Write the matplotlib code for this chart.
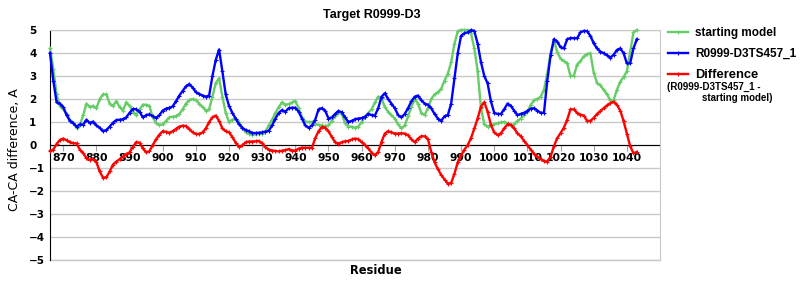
import numpy as np
import matplotlib
matplotlib.use("Agg")
import matplotlib.pyplot as plt

# CA-CA differences per residue (residues 866..1043)
first_residue = 866

starting_model = [
    4.2, 3.3, 2.2, 1.7,
    1.55, 1.35, 1.1, 0.95, 0.75, 0.85, 1.3, 1.8, 1.65, 1.7,
    1.6, 2.0, 2.2, 2.2, 1.8, 1.7, 1.9, 1.65, 1.5, 1.85,
    1.7, 1.45, 1.3, 1.55, 1.75, 1.75, 1.7, 1.2, 0.95, 0.87,
    0.9, 1.05, 1.2, 1.23, 1.25, 1.35, 1.55, 1.8, 1.95, 2.0,
    1.95, 1.8, 1.65, 1.5, 1.55, 2.1, 2.7, 2.9, 2.1, 1.4,
    1.0, 1.1, 1.15, 1.0, 0.75, 0.55, 0.5, 0.45, 0.46, 0.48,
    0.5, 0.6, 0.85, 1.1, 1.4, 1.65, 1.85, 1.75, 1.78, 1.85,
    1.92, 1.6, 1.2, 1.02, 1.0, 1.0, 0.92, 0.87, 0.85, 0.82,
    0.85, 1.05, 1.25, 1.4, 1.35, 0.95, 0.8, 0.8, 0.75, 0.8,
    1.0, 1.2, 1.4, 1.55, 1.85, 2.1, 2.05, 1.65, 1.45, 1.3,
    1.15, 0.9, 0.72, 0.85, 1.25, 1.65, 2.0, 1.8, 1.4, 1.3,
    1.6, 2.0, 2.2, 2.3, 2.45, 2.8, 3.1, 3.6, 4.4, 4.95,
    5.0, 5.0, 5.0, 4.85, 4.2, 3.2, 1.6, 0.9, 0.8, 0.87,
    0.9, 0.95, 0.98, 1.0, 0.95, 0.85, 0.9, 1.05, 1.15, 1.3,
    1.45, 1.75, 1.95, 2.0, 2.1, 2.4, 3.1, 4.0, 4.55, 4.05,
    3.75, 3.65, 3.55, 3.0, 3.0, 3.5, 3.65, 3.85, 3.95, 3.99,
    3.15, 2.7, 2.6, 2.4, 2.2, 1.95, 1.95, 2.4, 2.75, 2.95,
    3.2, 4.06, 4.9, 5.0,
]

model_ts457 = [
    4.0, 2.8, 1.85, 1.8,
    1.65, 1.3, 1.05, 0.95, 0.8, 0.9, 0.88, 1.1, 0.95, 1.02,
    0.85, 0.75, 0.6, 0.65, 0.8, 0.97, 1.08, 1.1, 1.12, 1.2,
    1.4, 1.57, 1.55, 1.45, 1.2, 1.3, 1.33, 1.25, 1.18, 1.3,
    1.5, 1.58, 1.62, 1.68, 1.9, 2.15, 2.35, 2.55, 2.65, 2.5,
    2.3, 2.22, 2.15, 2.1, 2.15, 3.0, 3.7, 4.15, 3.2, 2.2,
    1.7, 1.4, 1.15, 0.9, 0.75, 0.65, 0.6, 0.52, 0.52, 0.53,
    0.55, 0.58, 0.62, 0.85, 1.15, 1.4, 1.52, 1.45, 1.6, 1.62,
    1.62, 1.45, 1.15, 0.85, 0.75, 0.85, 1.1, 1.55, 1.6, 1.5,
    1.15, 1.2, 1.35, 1.48, 1.42, 1.2, 1.0, 1.05, 1.12, 1.15,
    1.17, 1.23, 1.35, 1.3, 1.28, 1.6, 2.1, 2.25, 2.0, 1.8,
    1.6, 1.3, 1.2, 1.35, 1.6, 1.9, 2.1, 2.15, 1.95, 1.8,
    1.75, 1.6, 1.35, 1.15, 1.05, 1.25, 1.3, 1.8, 2.9, 4.0,
    4.75, 4.86, 4.9, 5.0, 4.95, 4.4, 3.6, 3.0, 2.68, 1.9,
    1.4, 1.35, 1.35, 1.55, 1.8, 1.7, 1.5, 1.3, 1.35, 1.4,
    1.48, 1.58, 1.6, 1.5, 1.4, 1.4, 2.8, 3.9, 4.6, 4.5,
    4.25, 4.2, 4.6, 4.65, 4.64, 4.64, 4.9, 4.96, 4.95, 4.75,
    4.42, 4.2, 4.06, 3.99, 3.9, 3.8, 3.92, 4.13, 4.2, 4.0,
    3.55, 3.55, 4.2, 4.6,
]

difference = [
    -0.25, -0.2, 0.05, 0.22,
    0.28, 0.2, 0.12, 0.08, 0.07, -0.2, -0.35, -0.58, -0.65, -0.6,
    -0.75, -1.15, -1.42, -1.4, -1.15, -0.85, -0.72, -0.62, -0.5, -0.4,
    -0.32, -0.08, 0.12, 0.1, -0.15, -0.32, -0.27, 0.0, 0.25, 0.45,
    0.6, 0.57, 0.53, 0.6, 0.7, 0.8, 0.84, 0.82, 0.7, 0.55,
    0.48, 0.48, 0.55, 0.72, 1.0, 1.2, 1.28, 1.05, 0.72, 0.6,
    0.55, 0.35, 0.1, -0.08, -0.02, 0.12, 0.15, 0.15, 0.16, 0.17,
    0.08, -0.1, -0.2, -0.24, -0.26, -0.28, -0.25, -0.22, -0.18, -0.24,
    -0.24, -0.16, -0.12, -0.12, -0.12, -0.13, 0.3, 0.6, 0.78, 0.76,
    0.6, 0.35, 0.12, 0.06, 0.12, 0.16, 0.17, 0.24, 0.28, 0.25,
    0.12, 0.0, -0.15, -0.33, -0.45, -0.3, 0.14, 0.5, 0.6, 0.55,
    0.5, 0.5, 0.51, 0.5, 0.42, 0.25, 0.12, 0.28, 0.38, 0.38,
    0.25, -0.3, -0.75, -1.05, -1.3, -1.5, -1.68, -1.65, -1.25, -0.75,
    -0.45, -0.2, 0.0, 0.3, 0.72, 1.16, 1.67, 1.86, 1.45, 0.87,
    0.55, 0.43, 0.51, 0.72, 0.9, 0.88, 0.72, 0.51, 0.38, 0.18,
    0.0, -0.2, -0.38, -0.51, -0.6, -0.7, -0.72, -0.5, -0.05, 0.3,
    0.52, 0.75, 1.1, 1.55, 1.55, 1.4, 1.32, 1.28, 1.05, 1.05,
    1.18, 1.35, 1.48, 1.6, 1.72, 1.82, 1.88, 1.75, 1.5, 1.05,
    0.5, -0.05, -0.36, -0.3,
]

series_labels = ["starting model", "R0999-D3TS457_1", "Difference"]
series_colors = ["#66cc66", "#0000ff", "#ff0000"]
x_ticks = list(range(870, 1041, 10))
y_ticks = list(range(-5, 6))

residues = np.arange(first_residue, first_residue + len(starting_model))

fig = plt.figure(figsize=(8, 3), dpi=100)
ax = fig.add_axes([50 / 800, 40 / 300, 610 / 800, 230 / 300])

for vals, lab, col in zip([starting_model, model_ts457, difference],
                          series_labels, series_colors):
    ax.plot(residues, vals, color=col, lw=1.7, marker="+", ms=3,
            mew=0.8, label=lab, clip_on=False, zorder=3)

ax.set_xlim(866, 1050)
ax.set_ylim(-5, 5)
ax.set_yticks(y_ticks)
ax.set_xticks(x_ticks)
ax.set_xticklabels([str(t) for t in x_ticks])
ax.grid(axis="y", color="#c8c8c8", lw=1)
ax.set_axisbelow(True)

# x axis crosses at zero
ax.spines["bottom"].set_position(("data", 0))
ax.spines["bottom"].set_color("black")
ax.spines["bottom"].set_zorder(2)
ax.spines["left"].set_color("black")
ax.spines["top"].set_color("#c8c8c8")
ax.spines["right"].set_color("#c8c8c8")
ax.axhline(-5, color="#c8c8c8", lw=1, clip_on=False)

ax.tick_params(axis="x", direction="out", length=4, color="#a0a0a0",
               pad=2, labelsize=7.8)
ax.tick_params(axis="y", length=0, pad=15, labelsize=7.5)
for lbl in ax.get_xticklabels() + ax.get_yticklabels():
    lbl.set_fontweight("bold")
for lbl in ax.get_yticklabels():
    lbl.set_horizontalalignment("left")

fig.text(15 / 800, 1 - 150 / 300, "CA-CA difference, A", rotation=90,
         ha="center", va="center", fontsize=9)
fig.text(376 / 800, 1 - 270 / 300, "Residue", ha="center", va="center",
         fontsize=8.3, fontweight="bold")
fig.text(372 / 800, 1 - 15 / 300, "Target R0999-D3", ha="center",
         va="center", fontsize=9, fontweight="bold", family="Liberation Sans")

leg = ax.legend(loc="upper left", bbox_to_anchor=(668 / 800, 1 - 27 / 300),
                bbox_transform=fig.transFigure, frameon=False,
                handlelength=1.7, handletextpad=0.6, labelspacing=0.75,
                borderaxespad=0, borderpad=0,
                prop={"family": "Liberation Sans", "weight": "bold", "size": 8.5})
leg.get_texts()[2].set_fontsize(9.3)

fig.text(667 / 800, 1 - 87 / 300, "(R0999-D3TS457_1 -", ha="left", va="center",
         fontsize=7, fontweight="bold", family="Liberation Sans")
fig.text(702 / 800, 1 - 98 / 300, "starting model)", ha="left", va="center",
         fontsize=7, fontweight="bold", family="Liberation Sans")

fig.savefig("out.png", dpi=100)
